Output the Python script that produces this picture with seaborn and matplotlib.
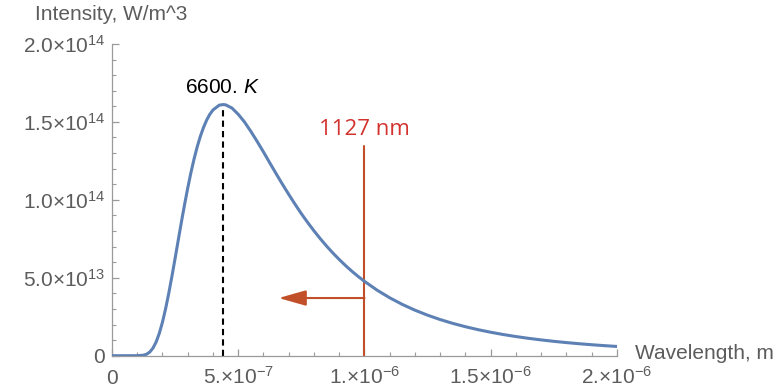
import pandas as pd
import matplotlib
matplotlib.use("Agg")
import matplotlib.pyplot as plt
from matplotlib.transforms import ScaledTranslation
import seaborn as sns

# Values (wavelength in um, intensity in 1e13 W/m^3)
wavelength_um = [0.0, 0.05, 0.10, 0.125, 0.1375, 0.15, 0.1625, 0.175, 0.1875, 0.20,
                 0.2125, 0.225, 0.2375, 0.25, 0.2625, 0.275, 0.2875, 0.30, 0.3125,
                 0.325, 0.3375, 0.35, 0.3625, 0.375, 0.3875, 0.40, 0.425, 0.44, 0.45,
                 0.475, 0.50, 0.525, 0.55, 0.575, 0.60, 0.625, 0.65, 0.675, 0.70,
                 0.725, 0.75, 0.775, 0.80, 0.825, 0.85, 0.875, 0.90, 0.925, 0.95,
                 0.975, 1.00, 1.05, 1.10, 1.15, 1.20, 1.25, 1.30, 1.35, 1.40, 1.45,
                 1.50, 1.55, 1.60, 1.65, 1.70, 1.75, 1.80, 1.85, 1.90, 1.95, 2.00]
intensity_e13 = [0.0, 0.0, 0.001, 0.033, 0.099, 0.24, 0.493, 0.887, 1.441, 2.16,
                 3.026, 4.02, 5.11, 6.25, 7.425, 8.59, 9.702, 10.76, 11.739,
                 12.62, 13.405, 14.08, 14.647, 15.12, 15.489, 15.768, 16.077, 16.113, 16.096,
                 15.89, 15.49, 14.99, 14.39, 13.744, 13.07, 12.37, 11.68, 11.002, 10.35,
                 9.717, 9.11, 8.547, 8.01, 7.504, 7.029, 6.585, 6.17, 5.782, 5.42,
                 5.083, 4.769, 4.204, 3.714, 3.288, 2.919, 2.598, 2.317, 2.072, 1.858, 1.669,
                 1.504, 1.357, 1.228, 1.113, 1.012, 0.921, 0.84, 0.768, 0.703, 0.645, 0.592]

peak_wavelength = 4.39e-7
peak_value = 1.61e14
cutoff_wavelength = 1.0e-6

x_ticks = [0, 5e-7, 1e-6, 1.5e-6, 2e-6]
x_tick_labels = ["0", "5.×10$^{-7}$", "1.×10$^{-6}$", "1.5×10$^{-6}$", "2.×10$^{-6}$"]
y_ticks = [0, 5e13, 1e14, 1.5e14, 2e14]
y_tick_labels = ["0", "5.0×10$^{13}$", "1.0×10$^{14}$", "1.5×10$^{14}$", "2.0×10$^{14}$"]

df = pd.DataFrame({
    "wavelength": [w * 1e-6 for w in wavelength_um],
    "intensity": [v * 1e13 for v in intensity_e13],
})

sns.set_style("ticks")
plt.rcParams["font.family"] = ["Liberation Sans", "DejaVu Sans"]
plt.rcParams["mathtext.fontset"] = "custom"
plt.rcParams["mathtext.rm"] = "Liberation Sans"
plt.rcParams["mathtext.it"] = "Liberation Sans:italic"

gray_text = "#5c5c5c"
gray_axis = "#9a9a9a"

fig = plt.figure(figsize=(7.81, 3.91), dpi=100)
ax = fig.add_axes([0.1434, 0.0903, 0.6466, 0.7972])

sns.lineplot(data=df, x="wavelength", y="intensity", ax=ax, color="#5e81b5",
             linewidth=2.2, zorder=3)

# peak marker
ax.plot([peak_wavelength, peak_wavelength], [0, peak_value], color="black",
        linestyle=(0, (3, 2)), linewidth=1.5, zorder=2)
ax.text(peak_wavelength, 1.722e14, r"6600. $K$", ha="center", va="center",
        fontsize=15, color="black")

# cutoff line and arrow
ax.plot([cutoff_wavelength, cutoff_wavelength], [0, 1.344e14], color="#c1502a",
        linewidth=1.5, zorder=2)
ax.text(cutoff_wavelength, 1.45e14, "1127 nm", ha="center", va="center",
        fontsize=16, color="#d3332e", family="Open Sans")
ax.annotate("", xy=(6.6e-7, 3.7e13), xytext=(cutoff_wavelength, 3.7e13),
            arrowprops=dict(arrowstyle="-|>,head_length=1.2,head_width=0.34",
                            color="#c1502a", lw=1.5, shrinkA=0, shrinkB=0,
                            mutation_scale=14))

ax.set_xlim(0, 2e-6)
ax.set_ylim(0, 2e14)
ax.set_xticks(x_ticks)
ax.set_xticklabels(x_tick_labels)
ax.set_yticks(y_ticks)
ax.set_yticklabels(y_tick_labels)
ax.set_xticks([i * 1e-7 for i in range(21)], minor=True)
ax.set_yticks([i * 1e13 for i in range(21)], minor=True)
ax.tick_params(which="major", direction="in", length=5, width=0.9, color=gray_axis,
               labelcolor=gray_text, labelsize=15)
ax.tick_params(axis="x", which="major", pad=7)
ax.tick_params(axis="y", which="major", pad=5)
ax.tick_params(which="minor", direction="in", length=3, width=0.8, color=gray_axis)

# plain "0" on the x axis sits on the same baseline as the other labels
zero_label = ax.get_xticklabels()[0]
zero_label.set_transform(zero_label.get_transform() +
                         ScaledTranslation(0, -2.5 / 72, fig.dpi_scale_trans))

for side in ["top", "right"]:
    ax.spines[side].set_visible(False)
for side in ["left", "bottom"]:
    ax.spines[side].set_color(gray_axis)
    ax.spines[side].set_linewidth(0.9)

ax.set_xlabel("")
ax.set_ylabel("")
fig.text(0.045, 0.962, "Intensity, W/m^3", ha="left", va="center",
         fontsize=15, color=gray_text)
fig.text(0.813, 0.095, "Wavelength, m", ha="left", va="center",
         fontsize=15, color=gray_text)

fig.savefig("out.png", dpi=100)
